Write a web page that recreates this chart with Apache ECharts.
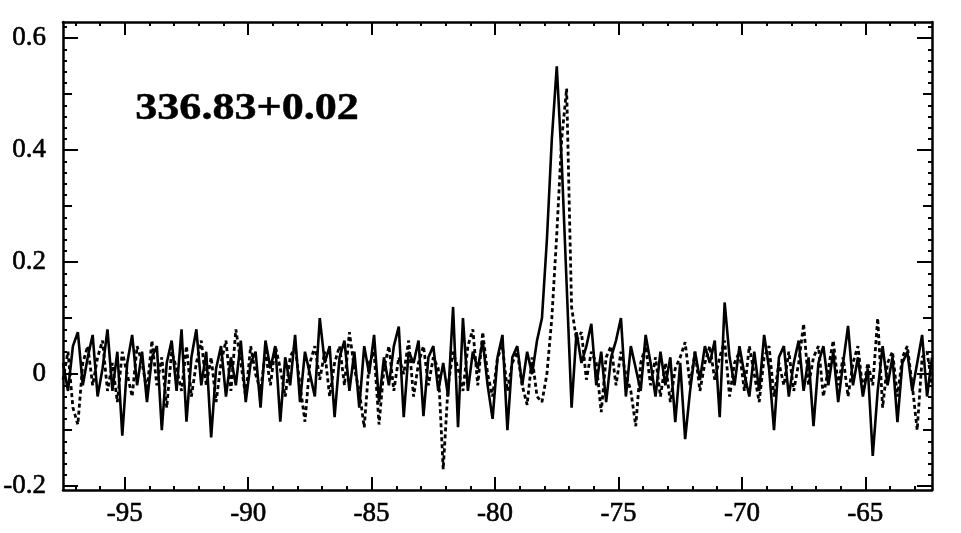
<!DOCTYPE html>
<html>
<head>
<meta charset="utf-8">
<script src="https://cdn.jsdelivr.net/npm/echarts@6/dist/echarts.min.js"></script>
<style>html,body{margin:0;padding:0;background:#fff}#c{width:961px;height:533px}</style>
</head>
<body>
<div id="c"></div>
<script>
// Velocity channel grid (km/s)
const velStart = -97.5;
const velStep = 0.2;
// Solid spectrum
const solidT = [
 0.02,-0.03,0.05,0.075,-0.02,0.03,0.07,-0.04,0.01,0.08,
 -0.03,0.04,-0.11,0.02,0.07,-0.02,0.04,-0.05,0.03,0.05,
 -0.10,0.02,0.06,-0.03,0.08,-0.085,0.03,0.08,-0.02,0.04,
 -0.113,0.01,0.05,-0.04,0.03,-0.02,0.06,-0.05,0.02,0.04,
 -0.06,0.06,0.01,0.05,-0.085,0.03,-0.02,0.07,-0.05,0.04,
 0.0,-0.04,0.10,0.02,0.05,-0.077,0.03,0.06,-0.03,0.04,
 -0.06,0.05,0.0,0.07,-0.05,0.03,-0.02,0.05,0.085,-0.077,
 0.04,0.02,0.06,-0.075,0.03,0.05,-0.03,0.02,-0.04,0.12,
 -0.095,0.10,-0.03,0.04,0.01,0.06,-0.02,-0.08,0.03,0.07,
 -0.10,0.03,0.05,-0.02,0.04,0.0,0.06,0.10,0.24,0.42,
 0.55,0.38,0.16,-0.06,0.075,0.02,0.05,0.09,-0.02,0.04,
 -0.05,0.03,0.06,0.10,-0.04,0.05,0.01,-0.03,0.07,0.02,
 -0.04,0.04,-0.02,0.03,-0.086,0.02,-0.116,-0.03,0.04,-0.01,
 0.05,0.02,0.06,-0.077,0.128,0.03,-0.02,0.05,0.0,-0.04,
 0.04,-0.03,0.07,0.01,-0.10,0.03,0.05,-0.04,0.02,0.06,
 -0.03,0.03,-0.093,0.02,0.05,-0.02,0.04,-0.05,0.02,0.086,
 -0.02,0.03,-0.04,0.01,-0.146,-0.03,0.05,-0.02,0.03,-0.086,
 0.02,0.04,-0.03,0.02,0.07,-0.04,0.03
];
// Dotted spectrum
const dottedT = [
 -0.01,0.04,-0.06,-0.09,0.02,0.05,-0.02,0.03,0.06,-0.03,
 0.02,-0.05,0.04,0.0,-0.04,0.05,0.02,-0.03,0.06,-0.02,
 0.03,-0.06,0.04,0.01,-0.03,0.05,-0.04,0.02,0.06,-0.02,
 0.03,-0.05,0.02,0.06,-0.03,0.08,0.02,-0.04,0.05,0.0,
 -0.03,0.04,-0.02,0.05,0.01,-0.04,0.03,0.05,-0.02,-0.085,
 0.02,0.05,-0.01,0.04,-0.04,0.02,0.05,-0.02,0.075,0.01,
 -0.03,-0.095,0.02,0.04,-0.09,0.01,0.05,-0.03,0.03,0.0,
 0.06,-0.04,0.02,0.05,-0.02,0.03,0.01,-0.17,-0.02,0.04,
 0.01,-0.03,0.05,0.08,-0.02,0.075,0.0,-0.04,0.03,0.05,
 -0.03,0.02,0.04,-0.02,-0.055,0.03,-0.04,-0.05,0.0,0.10,
 0.25,0.42,0.51,0.12,0.06,0.075,-0.01,0.04,0.02,-0.068,
 0.03,0.05,-0.02,0.04,0.0,-0.03,-0.093,0.02,0.05,-0.02,
 0.03,-0.04,0.02,-0.05,0.01,0.03,0.057,-0.02,0.04,-0.03,
 0.02,0.05,-0.01,0.03,0.06,-0.04,0.02,0.04,-0.03,0.05,
 0.0,-0.05,0.03,0.05,-0.04,0.02,-0.02,0.04,-0.03,0.02,
 0.09,-0.02,0.03,0.05,-0.04,0.01,0.06,-0.02,0.03,-0.04,
 0.02,0.05,-0.03,0.02,-0.02,0.10,-0.06,0.02,0.04,-0.04,
 0.03,0.05,-0.02,-0.10,0.03,0.04,-0.02
];
const xMajorTicks = [-95, -90, -85, -80, -75, -70, -65];
const xMinorTicks = [-97,-96,-94,-93,-92,-91,-89,-88,-87,-86,-84,-83,-82,-81,-79,-78,-77,-76,-74,-73,-72,-71,-69,-68,-67,-66,-64,-63];
const yMajorTicks = [-0.2, 0, 0.2, 0.4, 0.6];
const yMidTicks = [-0.1, 0.1, 0.3, 0.5];
const yLabels = ['-0.2', '0', '0.2', '0.4', '0.6'];
const titleText = '336.83+0.02';

const xMin = -97.5, xMax = -62.3, yMin = -0.207, yMax = 0.629;
const yMinorTicks = [];
for (let k = -10; k <= 31; k++) yMinorTicks.push(Math.round(k * 2) / 100);

const solidData = solidT.map((t, i) => [velStart + i * velStep, t]);
const dottedData = dottedT.map((t, i) => [velStart + i * velStep, t]);

const FONT = '"Liberation Serif", "Times New Roman", serif';
const line = { show: true, onZero: false, lineStyle: { color: '#000', width: 2.5 } };
const noLine = { show: false, onZero: false };
const labelBase = { color: '#000', fontFamily: FONT, fontSize: 27, textBorderColor: '#000', textBorderWidth: 0.6 };

function xAx(pos, ticks, len, labels, showLine) {
  return {
    type: 'value', position: pos, min: xMin, max: xMax,
    axisLine: showLine ? line : noLine,
    splitLine: { show: false },
    axisTick: { show: true, inside: true, length: len, customValues: ticks, lineStyle: { color: '#000', width: 2 } },
    axisLabel: labels ? Object.assign({ show: true, customValues: ticks, margin: 10, formatter: v => String(v) }, labelBase) : { show: false }
  };
}
function yAx(pos, ticks, len, labels, showLine) {
  return {
    type: 'value', position: pos, min: yMin, max: yMax,
    axisLine: showLine ? line : noLine,
    splitLine: { show: false },
    axisTick: { show: true, inside: true, length: len, customValues: ticks, lineStyle: { color: '#000', width: 2 } },
    axisLabel: labels ? Object.assign({ show: true, customValues: ticks, margin: 17,
      formatter: v => yLabels[yMajorTicks.findIndex(t => Math.abs(t - v) < 1e-6)] }, labelBase) : { show: false }
  };
}

const chart = echarts.init(document.getElementById('c'), null, { renderer: 'canvas' });
chart.setOption({
  animation: false,
  backgroundColor: '#fff',
  grid: { left: 63, right: 29, top: 22, bottom: 43, containLabel: false },
  xAxis: [
    xAx('bottom', xMajorTicks, 13, true, true),
    xAx('bottom', xMinorTicks, 4, false, false),
    xAx('top', xMajorTicks, 13, false, true),
    xAx('top', xMinorTicks, 4, false, false)
  ],
  yAxis: [
    yAx('left', yMajorTicks, 15, true, true),
    yAx('left', yMidTicks, 9, false, false),
    yAx('left', yMinorTicks, 4, false, false),
    yAx('right', yMajorTicks, 15, false, true),
    yAx('right', yMidTicks, 9, false, false),
    yAx('right', yMinorTicks, 4, false, false)
  ],
  graphic: [{
    type: 'text', left: 135, top: 90, scaleX: 1.16,
    style: { text: titleText, font: 'bold 38px "Liberation Serif", serif', fill: '#000', stroke: '#000', lineWidth: 0.5 }
  }],
  series: [
    {
      type: 'line', name: 'dotted', xAxisIndex: 0, yAxisIndex: 0, data: dottedData,
      showSymbol: false, symbol: 'none', z: 2,
      lineStyle: { color: '#000', width: 2.8, type: [4, 3] }
    },
    {
      type: 'line', name: 'solid', xAxisIndex: 0, yAxisIndex: 0, data: solidData,
      showSymbol: false, symbol: 'none', z: 3,
      lineStyle: { color: '#000', width: 2.6 }
    }
  ]
});
</script>
</body>
</html>
